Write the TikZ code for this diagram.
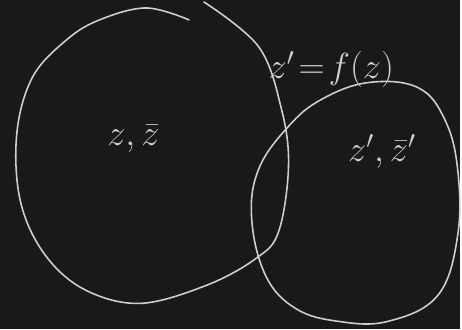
\documentclass[tikz,border=0pt]{standalone}
\definecolor{BoardBlack}{RGB}{24,26,26}
\definecolor{ChalkWhite}{RGB}{205,208,206}
\usepackage{amsmath, amssymb}
\usepackage{tikz}
\usetikzlibrary{positioning, calc}

\begin{document}
\begin{tikzpicture}[x=0.02cm, y=-0.02cm,
    chalk/.style={ChalkWhite, line width=0.9pt, line cap=round},
    label/.style={text=ChalkWhite, font=\fontsize{20}{24}\selectfont, inner sep=0pt}]
      % blackboard
      \fill[BoardBlack] (0,0) rectangle (462,331);
      % domain of z
      \draw[chalk] plot[smooth, tension=0.6] coordinates {
        (190,20) (147,8) (100,20) (67,40) (33,77) (17,133) (20,200)
        (43,253) (83,290) (140,305) (207,287) (257,260) (280,233)
        (290,167) (283,110) (260,47) (205,2)};
      % image domain of z'
      \draw[chalk] plot[smooth cycle, tension=0.65] coordinates {
        (370,83) (420,88) (447,120) (460,170) (460,237) (440,297)
        (390,323) (340,323) (297,310) (267,277) (253,220) (260,170)
        (290,127) (323,100)};
      \node[label] (zz) at (134,140) {$z,\bar z$};
      \node[label] (map) at (333,70) {$z'\!=\!f(z)$};
      \node[label] (zzp) at (384,152) {$z',\bar z'$};
    \end{tikzpicture}
\end{document}
